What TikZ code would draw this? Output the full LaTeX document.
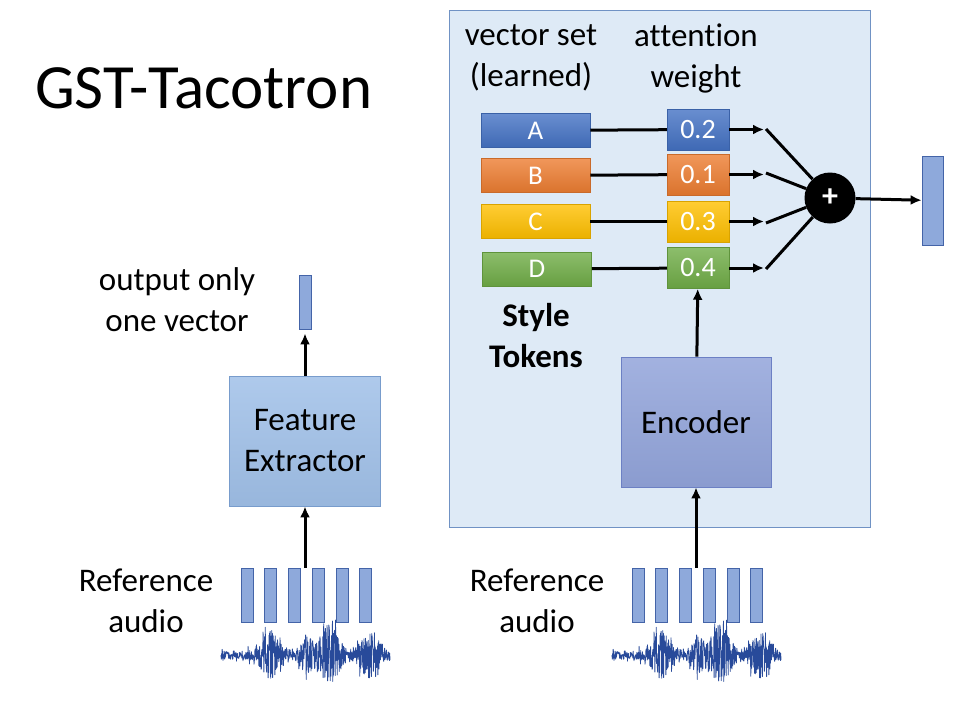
\documentclass[tikz,border=0pt]{standalone}
\usepackage{fontspec}
\setmainfont{Carlito}[Ligatures=NoCommon]
\usetikzlibrary{arrows.meta}

\definecolor{panelfill}{RGB}{222,234,246}
\definecolor{panelline}{RGB}{112,146,196}
\definecolor{tokA}{RGB}{68,114,196}
\definecolor{tokB}{RGB}{237,125,49}
\definecolor{tokC}{RGB}{255,192,0}
\definecolor{tokD}{RGB}{112,173,71}
\definecolor{featfill}{RGB}{160,192,232}
\definecolor{featline}{RGB}{120,156,204}
\definecolor{encfill}{RGB}{146,164,218}
\definecolor{encline}{RGB}{108,128,196}
\definecolor{vecfill}{RGB}{142,169,219}
\definecolor{vecline}{RGB}{68,100,168}
\definecolor{wavecol}{RGB}{40,74,154}

\tikzset{
  lbl/.style={font=\fontsize{33}{41}\selectfont, align=center, inner sep=0pt},
  token/.style={minimum width=109pt, minimum height=34pt, inner sep=0pt,
    text=white, font=\fontsize{27}{30}\selectfont,
    top color=#1!80!white, bottom color=#1!92!black, draw=#1!85!black, line width=0.5pt},
  weight/.style={minimum width=62pt, minimum height=41pt, inner sep=0pt,
    text=white, font=\fontsize{28}{30}\selectfont,
    top color=#1!80!white, bottom color=#1!92!black, draw=#1!85!black, line width=0.5pt},
  frame/.style={fill=vecfill, draw=vecline, line width=0.8pt, minimum width=12pt,
    minimum height=54pt, inner sep=0pt},
  arr/.style={line width=3pt, -{Latex[length=11pt,width=10pt]}},
  plain/.style={line width=3pt},
  wave/.style={wavecol, line width=0.8pt, line join=round}
}

\begin{document}
\begin{tikzpicture}[x=1pt, y=-1pt,
  declare function={
    env(\t)=4
      +18*exp(-((\t-49)/13)*((\t-49)/13))
      +14*exp(-((\t-85)/7)*((\t-85)/7))
      +27*exp(-((\t-108)/12)*((\t-108)/12))
      +21*exp(-((\t-149)/11)*((\t-149)/11));
  }]
\useasboundingbox (0,0) rectangle (971,705);
\fill[white] (0,0) rectangle (971,705);

% title
\node[anchor=west, inner sep=0pt, font=\fontsize{63}{72}\selectfont] (title) at (35,88) {GST-Tacotron};

% style token panel
\node[fill=panelfill, draw=panelline, line width=0.8pt, minimum width=421pt,
  minimum height=517pt, inner sep=0pt] (panel) at (659.5,268.5) {};

\node[lbl] (vset) at (531,58) {vector set\\(learned)};
\node[lbl] (attn) at (696,58) {attention\\weight};

% tokens
\node[token=tokA] (tA) at (535.5,130.5) {A};
\node[token=tokB] (tB) at (535.5,175.5) {B};
\node[token=tokC] (tC) at (535.5,221.5) {C};
\node[token=tokD] (tD) at (537,269) {D};

% attention weights
\node[weight=tokA] (wA) at (698,129.5) {0.2};
\node[weight=tokB] (wB) at (698,174.5) {0.1};
\node[weight=tokC] (wC) at (698,221.5) {0.3};
\node[weight=tokD] (wD) at (698,268) {0.4};

\node[lbl, font=\bfseries\fontsize{33}{41}\selectfont] (style) at (536,335.5) {Style\\Tokens};

\draw[plain] (tA) -- (wA);
\draw[plain] (tB) -- (wB);
\draw[plain] (tC) -- (wC);
\draw[plain] (tD) -- (wD);

% weighted sum
\node[circle, fill=black, minimum size=51pt, inner sep=0pt, text=white,
  font=\bfseries\fontsize{32}{32}\selectfont] (plus) at (830,198) {+};

\coordinate (hA) at (764,129.5);
\coordinate (hB) at (764,174.5);
\coordinate (hC) at (764,221.5);
\coordinate (hD) at (764,268);
\coordinate (sA) at (766,129);
\coordinate (sB) at (766,173);
\coordinate (sC) at (766,223);
\coordinate (sD) at (766,269);

\draw[arr] (wA) -- (hA);
\draw[arr] (wB) -- (hB);
\draw[arr] (wC) -- (hC);
\draw[arr] (wD) -- (hD);
\draw[plain] (sA) -- (plus);
\draw[plain] (sB) -- (plus);
\draw[plain] (sC) -- (plus);
\draw[plain] (sD) -- (plus);

\node[fill=vecfill, draw=vecline, line width=0.8pt, minimum width=21pt,
  minimum height=89pt, inner sep=0pt] (gst) at (932.5,200.5) {};
\draw[arr] (plus) -- (gst);

% reference encoder
\node[top color=encfill!85!white, bottom color=encfill!95!black, draw=encline,
  line width=0.8pt, minimum width=150pt, minimum height=130pt, inner sep=0pt,
  font=\fontsize{33}{41}\selectfont] (enc) at (696,422) {Encoder};
\draw[arr] (enc) -- (wD);

% feature extractor
\node[top color=featfill!85!white, bottom color=featfill!95!black, draw=featline,
  line width=0.8pt, minimum width=151pt, minimum height=130pt, inner sep=0pt,
  font=\fontsize{33}{41}\selectfont, align=center] (feat) at (305,441) {Feature\\Extractor};
\node[fill=vecfill, draw=vecline, line width=0.8pt, minimum width=12pt,
  minimum height=54pt, inner sep=0pt] (outv) at (305,302) {};
\draw[arr] (feat) -- ([yshift=-4pt]outv.south);
\node[lbl] (outlbl) at (177,300) {output only\\one vector};

% reference audio, left
\node[lbl] (refL) at (146,600.5) {Reference\\audio};
\foreach \i/\x in {1/247,2/270.5,3/294,4/318.5,5/342,6/365.5}
  \node[frame] (fL\i) at (\x,595) {};
\draw[arr] (fL4.north -| feat.south) -- (feat);
\pgfmathsetseed{4711}
\draw[wave] plot[domain=0:169, samples=600, variable=\t]
  ({221+\t},{655+env(\t)*rand*(1+0.8*rnd^6)});

% reference audio, right
\node[lbl] (refR) at (537,600.5) {Reference\\audio};
\foreach \i/\x in {1/638,2/661.5,3/685,4/709,5/733,6/756}
  \node[frame] (fR\i) at (\x,595) {};
\draw[arr] (fR4.north -| enc.south) -- (enc);
\pgfmathsetseed{4711}
\draw[wave] plot[domain=0:169, samples=600, variable=\t]
  ({612+\t},{655+env(\t)*rand*(1+0.8*rnd^6)});
\end{tikzpicture}
\end{document}
